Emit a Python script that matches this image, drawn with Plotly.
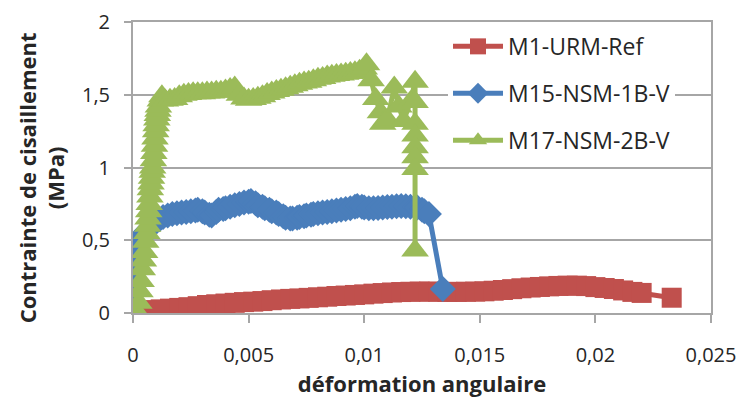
import plotly.graph_objects as go

# M1-URM-Ref (rouge)
x_m1 = [0, 0.0004, 0.0008, 0.0012, 0.0016, 0.002, 0.0024, 0.0028, 0.0032, 0.0036,
        0.004, 0.0044, 0.0048, 0.0052, 0.0056, 0.006, 0.0064, 0.0068, 0.0072, 0.0076,
        0.008, 0.0084, 0.0088, 0.0092, 0.0096, 0.01, 0.0104, 0.0108, 0.0112, 0.0116,
        0.012, 0.0124, 0.0128, 0.0132, 0.0136, 0.014, 0.0144, 0.0148, 0.0152, 0.0156,
        0.016, 0.0164, 0.0168, 0.0172, 0.0176, 0.018, 0.0184, 0.0188, 0.0192, 0.0196,
        0.02, 0.0204, 0.0208, 0.0212, 0.0216, 0.022, 0.0233]
y_m1 = [0.01, 0.015, 0.02, 0.025, 0.03, 0.035, 0.04, 0.047, 0.055, 0.06,
        0.065, 0.07, 0.075, 0.078, 0.082, 0.088, 0.093, 0.097, 0.1, 0.104,
        0.108, 0.112, 0.117, 0.12, 0.124, 0.128, 0.133, 0.137, 0.141, 0.144,
        0.146, 0.147, 0.147, 0.146, 0.145, 0.145, 0.146, 0.147, 0.149, 0.153,
        0.158, 0.164, 0.17, 0.175, 0.179, 0.183, 0.186, 0.188, 0.188, 0.185,
        0.178, 0.172, 0.165, 0.155, 0.145, 0.138, 0.105]

# M15-NSM-1B-V (bleu)
x_m15 = [0, 0.00005, 0.0001, 0.00015, 0.0002, 0.0003, 0.0004, 0.0005, 0.0006, 0.0007,
         0.00085, 0.001, 0.00115, 0.0013, 0.0015, 0.0017, 0.0019, 0.0021, 0.0023, 0.0025,
         0.0027, 0.0028, 0.003, 0.0031, 0.0033, 0.0034, 0.0036, 0.0037, 0.0039, 0.004,
         0.0042, 0.0044, 0.0046, 0.0048, 0.005, 0.0051, 0.0053, 0.0054, 0.0056, 0.0057,
         0.0059, 0.006, 0.0062, 0.0063, 0.0065, 0.0066, 0.0068, 0.0069, 0.0071, 0.0072,
         0.0074, 0.0075, 0.0077, 0.0078, 0.008, 0.0082, 0.0084, 0.0086, 0.0088, 0.009,
         0.0092, 0.0094, 0.0096, 0.0097, 0.0099, 0.01, 0.0102, 0.0104, 0.0106, 0.0108,
         0.011, 0.0112, 0.0114, 0.0116, 0.0118, 0.012, 0.0122, 0.0123, 0.0125, 0.0126,
         0.0128, 0.0134]
y_m15 = [0, 0.15, 0.3, 0.4, 0.46, 0.5, 0.52, 0.55, 0.565, 0.58,
         0.605, 0.63, 0.645, 0.66, 0.67, 0.68, 0.685, 0.69, 0.695, 0.7,
         0.705, 0.71, 0.7, 0.69, 0.675, 0.67, 0.695, 0.71, 0.715, 0.72,
         0.73, 0.74, 0.75, 0.76, 0.765, 0.77, 0.755, 0.74, 0.73, 0.72,
         0.71, 0.7, 0.69, 0.68, 0.665, 0.655, 0.65, 0.65, 0.655, 0.66,
         0.665, 0.67, 0.675, 0.68, 0.685, 0.69, 0.695, 0.7, 0.705, 0.71,
         0.715, 0.72, 0.73, 0.735, 0.73, 0.725, 0.72, 0.72, 0.722, 0.725,
         0.728, 0.73, 0.733, 0.735, 0.733, 0.73, 0.728, 0.725, 0.71, 0.7,
         0.68, 0.165]

# M17-NSM-2B-V (vert)
x_m17 = [0.0002, 0.00025, 0.0003, 0.00035, 0.0004, 0.00045, 0.0005, 0.00055, 0.0006, 0.00063,
         0.00065, 0.00068, 0.0007, 0.00073, 0.00075, 0.00078, 0.0008, 0.00083, 0.00085, 0.00088,
         0.0009, 0.00093, 0.00095, 0.00098, 0.001, 0.00103, 0.00105, 0.00108, 0.0011, 0.00118,
         0.00125, 0.0014, 0.0016, 0.0018, 0.002, 0.0022, 0.0024, 0.0026, 0.0028, 0.003,
         0.0032, 0.0034, 0.0036, 0.0038, 0.004, 0.0042, 0.0044, 0.0046, 0.0048, 0.005,
         0.0052, 0.0054, 0.0056, 0.0058, 0.006, 0.0062, 0.0064, 0.0066, 0.0068, 0.007,
         0.0072, 0.0074, 0.0076, 0.0078, 0.008, 0.0082, 0.0084, 0.0086, 0.0088, 0.009,
         0.0092, 0.0094, 0.0096, 0.0098, 0.01, 0.0101, 0.0103, 0.0105, 0.0107, 0.0108,
         0.011, 0.0113, 0.0115, 0.0117, 0.012, 0.0122, 0.0122, 0.0122, 0.0122, 0.0122,
         0.0122, 0.0122, 0.0122]
y_m17 = [0.0, 0.07, 0.15, 0.22, 0.3, 0.36, 0.42, 0.49, 0.55, 0.6,
         0.65, 0.7, 0.75, 0.8, 0.85, 0.89, 0.93, 0.97, 1.0, 1.05,
         1.1, 1.15, 1.2, 1.25, 1.29, 1.33, 1.36, 1.39, 1.42, 1.46,
         1.49, 1.46, 1.465, 1.47, 1.49, 1.5, 1.505, 1.51, 1.51, 1.51,
         1.515, 1.515, 1.52, 1.52, 1.53, 1.54, 1.55, 1.5, 1.475, 1.465,
         1.47, 1.48, 1.49, 1.505, 1.515, 1.525, 1.535, 1.545, 1.555, 1.565,
         1.575, 1.585, 1.59, 1.6, 1.61, 1.615, 1.625, 1.63, 1.635, 1.64,
         1.645, 1.65, 1.655, 1.665, 1.68, 1.71, 1.6, 1.47, 1.38, 1.3,
         1.33, 1.55, 1.42, 1.32, 1.45, 1.59, 1.45, 1.3, 1.22, 1.14,
         1.07, 0.99, 0.43]

x_ticks = [0, 0.005, 0.01, 0.015, 0.02, 0.025]
x_ticktext = ["0", "0,005", "0,01", "0,015", "0,02", "0,025"]
y_ticks = [0, 0.5, 1, 1.5, 2]
y_ticktext = ["0", "0,5", "1", "1,5", "2"]

FONT = "Open Sans"
GRID = "#a6a6a6"
TXT = "#262626"

fig = go.Figure()
fig.add_trace(go.Scatter(x=x_m1, y=y_m1, mode="lines+markers", name="M1-URM-Ref",
                         legendgroup="a",
                         line=dict(color="#C0504D", width=5),
                         marker=dict(symbol="square", size=20, color="#C0504D")))
fig.add_trace(go.Scatter(x=x_m15, y=y_m15, mode="lines+markers", name="M15-NSM-1B-V",
                         legendgroup="b",
                         line=dict(color="#4A7EBB", width=5),
                         marker=dict(symbol="diamond", size=20, color="#4A7EBB")))
fig.add_trace(go.Scatter(x=x_m17, y=y_m17, mode="lines+markers", name="M17-NSM-2B-V",
                         legendgroup="c",
                         line=dict(color="#9BBB59", width=5),
                         marker=dict(symbol="triangle-up", size=24, color="#9BBB59")))

# la page ajoute une marge de 8 px : figure de 736x393 décalée
fig.update_layout(
    width=736, height=393,
    margin=dict(l=125, r=33, t=13.5, b=88),
    paper_bgcolor="white", plot_bgcolor="white",
    font=dict(family=FONT, size=20, color=TXT),
    showlegend=True,
    legend=dict(x=0.545, y=0.99, xanchor="left", yanchor="top",
                bgcolor="white", borderwidth=0,
                font=dict(family=FONT, size=23, color=TXT),
                tracegroupgap=14, itemwidth=50),
    xaxis=dict(range=[0, 0.025], tickvals=x_ticks, ticktext=x_ticktext,
               showgrid=False, zeroline=False, automargin=False,
               showline=True, linecolor=GRID, linewidth=2, mirror=True,
               ticks="outside", ticklen=8, tickcolor=GRID, tickwidth=2,
               ticklabelstandoff=15,
               title=dict(text="<b>déformation angulaire</b>", standoff=5,
                          font=dict(family=FONT, size=22, color=TXT))),
    yaxis=dict(range=[0, 2], tickvals=y_ticks, ticktext=y_ticktext,
               showgrid=True, gridcolor=GRID, gridwidth=2, zeroline=False,
               automargin=False,
               showline=True, linecolor=GRID, linewidth=2, mirror=True,
               ticks="outside", ticklen=7, tickcolor=GRID, tickwidth=2,
               ticklabelstandoff=10),
    annotations=[dict(text="<b>Contrainte de cisaillement<br>(MPa)</b>",
                      xref="paper", yref="paper", x=-0.159, y=0.463,
                      xanchor="center", yanchor="middle", textangle=-90,
                      showarrow=False,
                      font=dict(family=FONT, size=22, color=TXT))],
)

fig.write_html("out.html")
